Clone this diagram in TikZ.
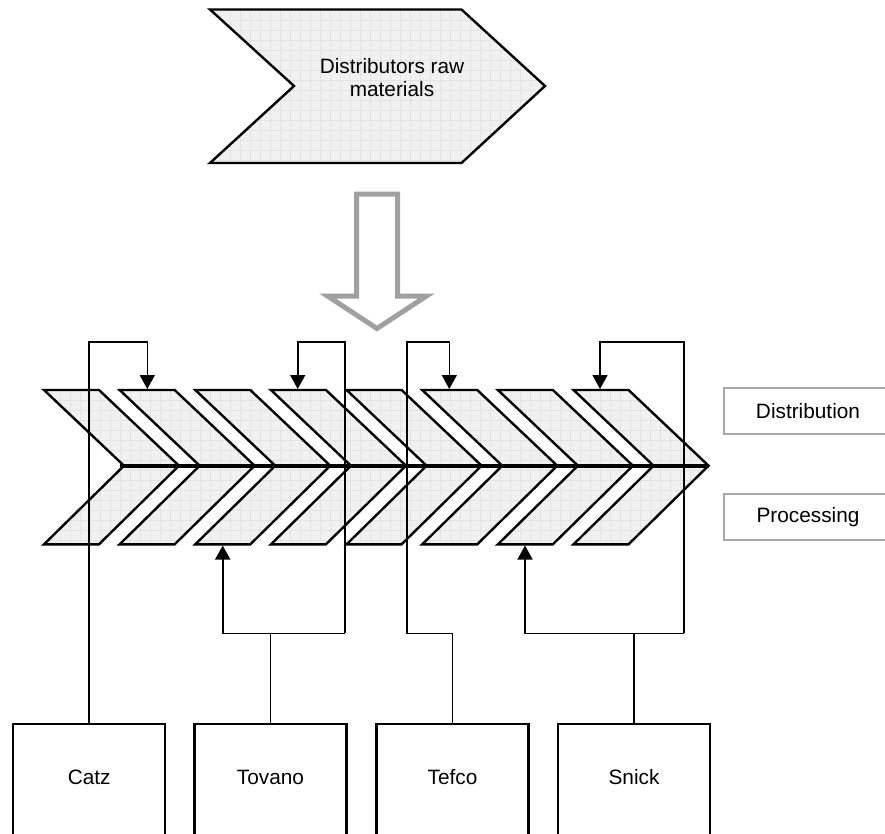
\documentclass[tikz,border=0pt]{standalone}
\usepackage{fontspec}
\setmainfont{Liberation Sans}
\usetikzlibrary{arrows.meta}
\definecolor{chevfill}{HTML}{F1F1F1}
\definecolor{gridc}{HTML}{E4E4E4}
\definecolor{arrgray}{HTML}{A0A0A0}
\definecolor{lblgray}{HTML}{A8A8A8}
\begin{document}
\begin{tikzpicture}[x=1pt,y=-1pt,
  chev/.style={draw=black, line width=2.4pt, fill=chevfill, line join=miter,
    path picture={\draw[gridc,line width=0.5pt] (path picture bounding box.south west) grid[step=10pt] (path picture bounding box.north east);}},
  conn/.style={draw=black, line width=1.6pt},
  tipend/.style={-{Triangle[width=15pt,length=14pt]}},
  txt/.style={font=\fontsize{20.8}{23}\selectfont},
  supbox/.style={draw=black, line width=2.2pt, minimum width=152pt, inner sep=0pt,
    text height=60.5pt, text depth=80pt, anchor=north, txt},
  lblbox/.style={draw=lblgray, line width=2.2pt, minimum width=168pt, minimum height=45.7pt, inner sep=0pt, txt},
]
\useasboundingbox (0,0) rectangle (885,834);

% top chevron
\draw[chev] (210,9.5) -- (461.5,9.5) -- (545,86) -- (461.5,163) -- (210,163) -- (294,86) -- cycle;
\node[txt, align=center] (raw) at (392,78) {Distributors raw\\materials};

% hollow gray arrow
\draw[arrgray, line width=5pt, line join=miter] (356.5,194.2) -- (397.5,194.2) -- (397.5,296) -- (426.5,296) -- (377,328.5) -- (327.5,296) -- (356.5,296) -- cycle;

% chevron band
\foreach \i in {0,...,7} {
  \pgfmathsetmacro{\xo}{44+75.65*\i}
  \draw[chev] (\xo,390) -- ({\xo+55},390) -- ({\xo+135},465.7) -- ({\xo+55},544.3) -- (\xo,544.3) -- ({\xo+80},465.7) -- cycle;
}
\draw[line width=4pt] (120,465.7) -- (709,465.7);

% labels
\node[lblbox] (dist) at (808,411.2) {Distribution};
\node[lblbox] (proc) at (808,517) {Processing};

% suppliers
\node[supbox] (catz) at (89.2,722.7) {Catz};
\node[supbox] (tovano) at (270.5,722.7) {Tovano};
\node[supbox] (tefco) at (452.5,722.7) {Tefco};
\node[supbox] (snick) at (634,722.7) {Snick};

% routing coordinates
\coordinate (lvl) at (0,341.7);
\coordinate (jn) at (0,633.3);
\coordinate (d1) at (147.3,389);
\coordinate (d2) at (297.7,389);
\coordinate (d3) at (449.3,389);
\coordinate (d4) at (600,389);
\coordinate (p2) at (222.7,545.5);
\coordinate (p4) at (525,545.5);
\coordinate (r2) at (345,0);
\coordinate (l3) at (406.7,0);
\coordinate (r4) at (684,0);

% connectors
\draw[conn,tipend] (catz.north) -- (catz.north |- lvl) -| (d1);

\draw[conn] (tovano.north) -- (tovano.north |- jn);
\draw[conn,tipend] (r2 |- jn) -- (p2 |- jn) -- (p2);
\draw[conn,tipend] (r2 |- jn) -- (r2 |- lvl) -| (d2);

\draw[conn,tipend] (tefco.north) -- (tefco.north |- jn) -| (l3 |- lvl) -| (d3);

\draw[conn] (snick.north) -- (snick.north |- jn);
\draw[conn,tipend] (r4 |- jn) -- (p4 |- jn) -- (p4);
\draw[conn,tipend] (r4 |- jn) -- (r4 |- lvl) -| (d4);
\end{tikzpicture}
\end{document}
